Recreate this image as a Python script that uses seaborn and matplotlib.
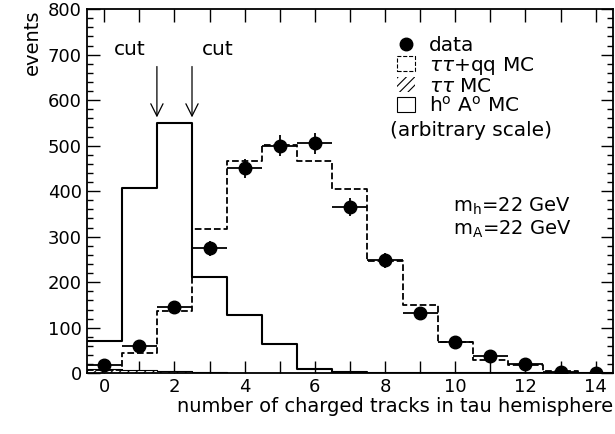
import numpy as np
import pandas as pd
import matplotlib
matplotlib.use('Agg')
import matplotlib.pyplot as plt
import seaborn as sns
from matplotlib.patches import Patch
from matplotlib.lines import Line2D
from matplotlib.ticker import MultipleLocator

# number of charged tracks (bin centres)
tracks = list(range(0, 15))

# data points
data_events = [18, 60, 145, 275, 450, 500, 505, 365, 248, 132, 68, 38, 20, 2, 1]
# tau tau + qq MC (dashed)
mc_total = [8, 45, 136, 317, 466, 502, 467, 405, 246, 149, 68, 28, 19, 5, 1]
# tau tau MC (hatched)
mc_tautau = [10, 8, 5, 3, 1, 0, 0, 0, 0, 0, 0, 0, 0, 0, 0]
# h0 A0 signal MC (solid, arbitrary scale)
mc_signal = [70, 408, 550, 212, 128, 65, 10, 3, 0, 0, 0, 0, 0, 0, 0]

df = pd.DataFrame({'tracks': tracks, 'data': data_events, 'total': mc_total,
                   'tautau': mc_tautau, 'signal': mc_signal})

sns.set_style('ticks')
plt.rcParams['font.family'] = ['DejaVu Sans']
plt.rcParams['mathtext.fontset'] = 'dejavusans'
for k in ['text.color', 'axes.labelcolor', 'xtick.color', 'ytick.color',
          'axes.edgecolor']:
    plt.rcParams[k] = 'black'
plt.rcParams['hatch.linewidth'] = 0.8

fs = 14.5

fig = plt.figure(figsize=(6.15, 4.34), dpi=100)
ax = fig.add_axes([0.141, 0.14, 0.856, 0.839])

sns.histplot(data=df, x='tracks', weights='tautau', discrete=True,
             element='step', fill=True, color='white', edgecolor='black',
             linewidth=0.8, hatch='////', alpha=1, ax=ax)
sns.histplot(data=df, x='tracks', weights='total', discrete=True,
             element='step', fill=False, color='black', linestyle='--',
             linewidth=1.3, ax=ax)
sns.histplot(data=df, x='tracks', weights='signal', discrete=True,
             element='step', fill=False, color='black', linewidth=1.5, ax=ax)

ax.errorbar(df['tracks'], df['data'], xerr=0.5, yerr=np.sqrt(df['data']),
            fmt='o', color='black', markersize=9, elinewidth=1.3,
            capsize=0, zorder=5)

# cut arrows
for xc in [1.5, 2.5]:
    ax.annotate('', xy=(xc, 556), xytext=(xc, 680),
                arrowprops=dict(arrowstyle='->', color='black', lw=0.9,
                                mutation_scale=22))
ax.text(0.74, 712, 'cut', fontsize=fs, ha='center', va='center')
ax.text(3.24, 712, 'cut', fontsize=fs, ha='center', va='center')

handles = [
    Line2D([], [], marker='o', color='black', linestyle='none', markersize=9),
    Patch(facecolor='white', edgecolor='black', linestyle='--', linewidth=0.8),
    Patch(facecolor='white', edgecolor='black', linewidth=0, hatch='////'),
    Patch(facecolor='white', edgecolor='black', linewidth=0.8),
]
labels = ['data', r'$\tau\tau$+qq MC', r'$\tau\tau$ MC',
          'h$^{\\rm o}$ A$^{\\rm o}$ MC']
ax.legend(handles, labels, loc='upper left', bbox_to_anchor=(0.57, 0.955),
          frameon=False, fontsize=fs, handlelength=0.9, handleheight=0.7,
          handletextpad=0.7, labelspacing=0.0, borderpad=0)
ax.text(8.13, 533, '(arbitrary scale)', fontsize=fs, ha='left', va='center')

ax.text(9.95, 366, 'm$_{\\rm h}$=22 GeV', fontsize=14, ha='left', va='center')
ax.text(9.95, 316, 'm$_{\\rm A}$=22 GeV', fontsize=14, ha='left', va='center')

ax.set_xlim(-0.5, 14.5)
ax.set_ylim(0, 800)
ax.xaxis.set_major_locator(MultipleLocator(2))
ax.xaxis.set_minor_locator(MultipleLocator(1))
ax.yaxis.set_major_locator(MultipleLocator(100))
ax.yaxis.set_minor_locator(MultipleLocator(20))
ax.tick_params(which='both', direction='in', top=True, right=True,
               labelsize=13, width=1)
ax.tick_params(which='major', length=9)
ax.tick_params(axis='x', which='minor', length=9)
ax.tick_params(axis='y', which='minor', length=4)
for s in ax.spines.values():
    s.set_linewidth(1.3)

ax.set_xlabel('number of charged tracks in tau hemisphere', fontsize=14,
              loc='right', labelpad=1)
ax.set_ylabel('events', fontsize=14, loc='top', labelpad=4)

fig.savefig('out.png', dpi=100)
